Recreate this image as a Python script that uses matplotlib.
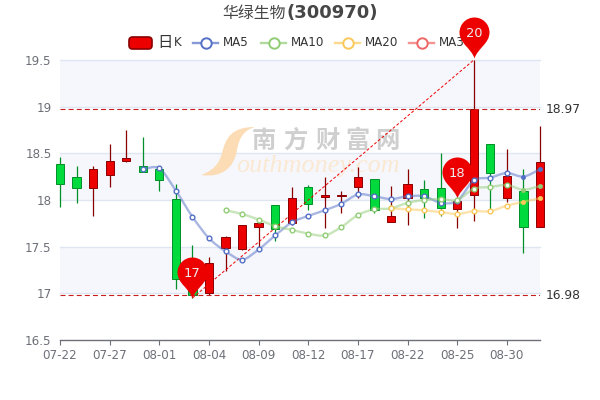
import matplotlib

matplotlib.use('Agg')
import matplotlib.pyplot as plt
from matplotlib.lines import Line2D
from matplotlib.patches import FancyBboxPatch, PathPatch
from matplotlib.path import Path
from matplotlib.transforms import Affine2D

plt.rcParams['font.family'] = ['DejaVu Sans', 'Noto Sans CJK SC']

dates = ['07-22', '07-23', '07-26', '07-27', '07-28', '07-29', '07-30', '08-01', '08-02', '08-03',
         '08-04', '08-05', '08-06', '08-09', '08-10', '08-12', '08-13', '08-16', '08-17', '08-18',
         '08-19', '08-22', '08-23', '08-24', '08-25', '08-26', '08-27', '08-30', '08-31', '09-01']
tick_labels = ['07-22', '07-27', '08-01', '08-04', '08-09', '08-12', '08-17', '08-22', '08-25', '08-30']

# open, close, low, high
opens = [18.39, 18.25, 18.13, 18.27, 18.42, 18.36, 18.33, 18.01, 17.15, 17.00,
         17.49, 17.47, 17.71, 17.95, 17.75, 18.14, 18.03, 18.04, 18.14, 18.22,
         17.76, 18.02, 18.12, 18.13, 17.90, 18.05, 18.60, 18.02, 18.10, 17.71]
closes = [18.17, 18.13, 18.33, 18.42, 18.45, 18.30, 18.21, 17.15, 16.98, 17.33,
          17.60, 17.73, 17.75, 17.69, 18.02, 17.96, 18.05, 18.05, 18.25, 17.89,
          17.83, 18.17, 18.02, 17.91, 17.99, 18.97, 18.29, 18.26, 17.71, 18.41]
lows = [17.92, 17.97, 17.83, 18.14, 18.41, 18.30, 18.10, 17.05, 16.95, 16.98,
        17.24, 17.46, 17.50, 17.56, 17.73, 17.89, 17.70, 17.86, 18.02, 17.86,
        17.76, 17.73, 17.81, 17.83, 17.70, 17.78, 17.88, 17.98, 17.43, 17.71]
highs = [18.46, 18.36, 18.36, 18.60, 18.75, 18.67, 18.33, 18.17, 17.52, 17.39,
         17.61, 17.73, 17.76, 17.95, 18.14, 18.16, 18.25, 18.10, 18.35, 18.22,
         18.15, 18.33, 18.21, 18.50, 18.02, 19.50, 18.60, 18.55, 18.33, 18.79]

ma5 = [18.33, 18.34, 18.10, 17.82, 17.59, 17.45, 17.36, 17.47, 17.62, 17.76, 17.83, 17.89, 17.96,
       18.06, 18.04, 18.01, 18.04, 18.04, 17.97, 17.99, 18.21, 18.24, 18.29, 18.25, 18.33]
ma10 = [17.89, 17.85, 17.79, 17.72, 17.68, 17.64, 17.62, 17.71, 17.84, 17.90, 17.91, 17.97, 18.00,
        18.01, 18.00, 18.12, 18.14, 18.16, 18.11, 18.15]
ma20 = [17.91, 17.90, 17.89, 17.87, 17.85, 17.88, 17.88, 17.94, 17.98, 18.02]

pins = [(8, 16.95, '17'), (24, 18.02, '18'), (25, 19.52, '20')]
low_line = 16.98
high_line = 18.97

RED = '#ec0000'
RED_DARK = '#8a0000'
GREEN = '#00da3c'
GREEN_DARK = '#008f28'
BLUE = '#5470c6'
LIGHT_GREEN = '#91cc75'
YELLOW = '#fac858'
PINK = '#ee6666'
LABEL = '#6e7079'
GRID = '#e0e6f1'


def smooth_path(xs, ys, k=0.3):
    verts = [(xs[0], ys[0])]
    codes = [Path.MOVETO]
    n = len(xs)
    for i in range(n - 1):
        prev_i = max(i - 1, 0)
        next_i = min(i + 2, n - 1)
        verts.append((xs[i] + k * (xs[i + 1] - xs[prev_i]) / 2, ys[i] + k * (ys[i + 1] - ys[prev_i]) / 2))
        verts.append((xs[i + 1] - k * (xs[next_i] - xs[i]) / 2, ys[i + 1] - k * (ys[next_i] - ys[i]) / 2))
        verts.append((xs[i + 1], ys[i + 1]))
        codes += [Path.CURVE4, Path.CURVE4, Path.CURVE4]
    return Path(verts, codes)


fig = plt.figure(figsize=(6, 4), dpi=100)
W, H = 600, 400
ax = fig.add_axes([60 / W, 1 - 340 / H, 480 / W, 280 / H], zorder=5)
ax.set_xlim(0, len(dates) - 1)
ax.set_ylim(16.5, 19.5)

# background bands and grid
for bottom in [17.0, 18.0, 19.0]:
    ax.axhspan(bottom, bottom + 0.5, color='#f5f7fc', lw=0, zorder=0)
for y in [17.0, 17.5, 18.0, 18.5, 19.0, 19.5]:
    ax.axhline(y, color=GRID, lw=1, zorder=1, clip_on=False)

# watermark
swoosh = Path([(255, 127), (232, 127), (226, 137), (222, 153), (219, 165), (212, 171), (201, 175),
               (222, 178), (234, 168), (237, 150), (239, 138), (244, 130), (255, 127)],
              [Path.MOVETO] + [Path.CURVE4] * 12)
swoosh = swoosh.transformed(Affine2D().scale(1 / W, -1 / H).translate(0, 1))
ax.add_patch(PathPatch(swoosh, fc='#fbdcb4', ec='none', transform=fig.transFigure, zorder=2, clip_on=False))
for cx, ch in zip([264, 295, 327, 357, 387], '南方财富网'):
    ax.text(cx / W, 1 - 141 / H, ch, transform=fig.transFigure, fontsize=17.5, color='#cfcfcf',
            ha='center', va='center', family='Noto Sans CJK SC', fontweight='bold', zorder=2)
ax.text(236 / W, 1 - 172 / H, 'outhmoney.com', transform=fig.transFigure, fontsize=18.8, color='#fbe8d2',
        ha='left', va='baseline', family='Liberation Serif', style='italic', zorder=2)

# candles
for i in range(len(dates)):
    up = closes[i] >= opens[i]
    face = RED if up else GREEN
    edge = RED_DARK if up else GREEN_DARK
    ax.vlines(i, lows[i], highs[i], color=edge, lw=0.9, zorder=3, clip_on=False)
    ax.bar(i, abs(closes[i] - opens[i]), bottom=min(opens[i], closes[i]), width=0.5, color=face,
           edgecolor=edge, lw=0.7, zorder=3.1, clip_on=False)

# mark lines
ax.axhline(high_line, color='#c81e1e', ls=(0, (4.5, 2.8)), lw=0.8, zorder=3.5)
ax.axhline(low_line, color='#c81e1e', ls=(0, (4.5, 2.8)), lw=0.8, zorder=3.5)
ax.plot([8, 25], [16.95, 19.5], color='#f00000', ls=(0, (3, 2)), lw=0.7, zorder=3.5)
ax.annotate(f'{high_line}', (1, high_line), xycoords=('axes fraction', 'data'), xytext=(3.8, 0),
            textcoords='offset points', va='center', fontsize=8.8, color='#333333', annotation_clip=False)
ax.annotate(f'{low_line}', (1, low_line), xycoords=('axes fraction', 'data'), xytext=(3.8, 0),
            textcoords='offset points', va='center', fontsize=8.8, color='#333333', annotation_clip=False)

# pins
pin_marker = Path([(0, 0), (-3, 10), (-15, 15), (-15, 26),
                   (-15, 34.3), (-8.3, 41), (0, 41),
                   (8.3, 41), (15, 34.3), (15, 26),
                   (15, 15), (3, 10), (0, 0)],
                  [Path.MOVETO] + [Path.CURVE4] * 12)
for i, y, label in pins:
    ax.plot([i], [y], marker=pin_marker, ms=2 * 41 * 0.72, mfc=RED, mec='none', zorder=6, clip_on=False)
    ax.annotate(label, (i, y), xytext=(0, 25 * 0.72), textcoords='offset points', ha='center', va='center',
                fontsize=9.4, color='#eeeeee', zorder=6.1, annotation_clip=False)

# moving averages
for vals, col in [(ma5, BLUE), (ma10, LIGHT_GREEN), (ma20, YELLOW)]:
    xs = list(range(len(dates) - len(vals), len(dates)))
    ax.add_patch(PathPatch(smooth_path(xs, vals), fc='none', ec=col, lw=1.7, alpha=0.5, zorder=7, clip_on=False))
    ax.plot(xs[:-2], vals[:-2], ls='none', marker='o', ms=3.4, mfc='white', mec=col, mew=1, zorder=7.1)
    ax.plot(xs[-2:], vals[-2:], ls='none', marker='o', ms=3, mfc=col, mec=col, mew=0.5, zorder=7.1, clip_on=False)

# axes
for side in ['top', 'right', 'left']:
    ax.spines[side].set_visible(False)
ax.spines['bottom'].set_color(LABEL)
ax.spines['bottom'].set_linewidth(1)
ax.spines['bottom'].set_zorder(8)
ax.set_xticks(range(0, len(dates), 3))
ax.set_xticklabels(tick_labels)
ax.set_yticks([16.5, 17, 17.5, 18, 18.5, 19, 19.5])
ax.set_yticklabels(['16.5', '17', '17.5', '18', '18.5', '19', '19.5'])
ax.tick_params(axis='x', length=3.6, width=0.8, color=LABEL, labelcolor=LABEL, labelsize=8.6, pad=3)
ax.tick_params(axis='y', length=0, labelcolor=LABEL, labelsize=8.6, pad=6)

# title
fig.text(222 / W, 1 - 13 / H, '华绿生物', fontsize=11.4, color='#464646', va='center', ha='left')
fig.text(286 / W, 1 - 13 / H, '(300970)', fontsize=13, color='#464646', va='center', ha='left', fontweight='bold')

# legend
fig.add_artist(FancyBboxPatch((129 / W, 1 - 49 / H), 23 / W, 12 / H, boxstyle='round,pad=0,rounding_size=0.006',
                              fc=RED, ec=RED_DARK, lw=1.2, transform=fig.transFigure, mutation_aspect=1.5))
fig.text(157 / W, 1 - 42 / H, '日', fontsize=11, color='#333333', va='center', ha='left')
fig.text(174 / W, 1 - 43 / H, 'K', fontsize=8.6, color='#333333', va='center', ha='left')
for x0, label, col in [(193, 'MA5', BLUE), (261, 'MA10', LIGHT_GREEN), (335, 'MA20', YELLOW), (409, 'MA30', PINK)]:
    fig.add_artist(Line2D([x0 / W, (x0 + 25) / W], [1 - 43 / H] * 2, color=col, lw=1.7, alpha=0.7,
                          transform=fig.transFigure, zorder=1))
    fig.add_artist(Line2D([(x0 + 12.5) / W], [1 - 43 / H], marker='o', ms=7.5, mfc='white', mec=col, mew=1.4,
                          transform=fig.transFigure, zorder=1.1))
    fig.text((x0 + 30) / W, 1 - 43 / H, label, fontsize=8.6, color='#333333', va='center', ha='left', zorder=1.2)

fig.savefig('out.png', dpi=100)
